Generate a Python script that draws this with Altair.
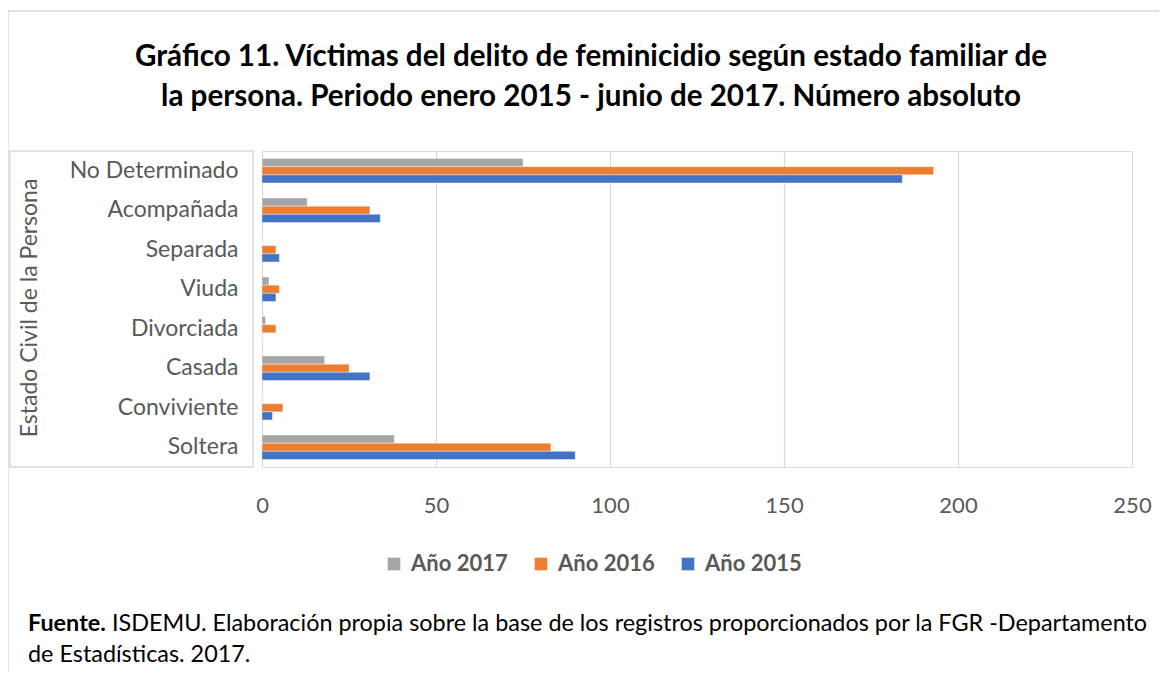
import altair as alt
import pandas as pd

categories = ["No Determinado", "Acompañada", "Separada", "Viuda",
              "Divorciada", "Casada", "Conviviente", "Soltera"]
series = ["Año 2017", "Año 2016", "Año 2015"]
v2017 = [75, 13, 0, 2, 1, 18, 0, 38]
v2016 = [193, 31, 4, 5, 4, 25, 6, 83]
v2015 = [184, 34, 5, 4, 0, 31, 3, 90]
colors = ["#A5A5A5", "#ED7D31", "#4472C4"]
x_ticks = [0, 50, 100, 150, 200, 250]

title_lines = ["Gráfico 11. Víctimas del delito de feminicidio según estado familiar de",
               "la persona. Periodo enero 2015 - junio de 2017. Número absoluto"]
y_title = "Estado Civil de la Persona"
foot_bold = "Fuente."
foot_line1 = "ISDEMU. Elaboración propia sobre la base de los registros proporcionados por la FGR -Departamento"
foot_line2 = "de Estadísticas. 2017."

rows = []
for s, vals in zip(series, [v2017, v2016, v2015]):
    for c, v in zip(categories, vals):
        rows.append({"cat": c, "serie": s, "value": v})
df = pd.DataFrame(rows)

FONT = "Lato"
W, H = 870, 316
one = pd.DataFrame({"k": [0]})

bars = alt.Chart(df).mark_bar(stroke="white", strokeWidth=0.4).encode(
    y=alt.Y("cat:N", sort=categories, title=None,
            scale=alt.Scale(paddingInner=0.38, paddingOuter=0.19),
            axis=alt.Axis(domain=False, ticks=False, labelPadding=24,
                          labelFont=FONT, labelFontSize=23, labelColor="#595959")),
    x=alt.X("value:Q", title=None,
            scale=alt.Scale(domain=[0, 250], nice=False),
            axis=alt.Axis(values=x_ticks, domain=False, ticks=False, grid=True,
                          gridColor="#D9D9D9", gridWidth=1.3, labelPadding=28,
                          labelFlush=False,
                          labelFont=FONT, labelFontSize=22, labelColor="#595959")),
    yOffset=alt.YOffset("serie:N", sort=series, scale=alt.Scale(domain=series)),
    color=alt.Color("serie:N", scale=alt.Scale(domain=series, range=colors),
                    legend=alt.Legend(title=None, orient="none", direction="horizontal",
                                      legendX=121, legendY=402,
                                      symbolType="square", symbolSize=160,
                                      symbolStrokeWidth=0, labelOffset=6,
                                      labelFont=FONT, labelFontSize=22,
                                      labelFontWeight="bold", labelColor="#595959",
                                      columnPadding=22)),
)

frame = alt.Chart(one).mark_rect(fill=None, stroke="#D9D9D9", strokeWidth=1.5).encode(
    x=alt.value(8 - 262), x2=alt.value(1200 - 262),
    y=alt.value(11 - 151), y2=alt.value(720 - 151))

label_box = alt.Chart(one).mark_rect(fill=None, stroke="#D9D9D9", strokeWidth=1.5).encode(
    x=alt.value(10 - 262), x2=alt.value(253 - 262),
    y=alt.value(0), y2=alt.value(467 - 151))

def text_layer(txt, x, y, size, weight="normal", color="black", align="center", angle=0):
    props = dict(text=txt, font=FONT, fontSize=size, fontWeight=weight, color=color,
                 align=align, baseline="middle")
    if angle:
        props["angle"] = angle
    return alt.Chart(one).mark_text(**props).encode(x=alt.value(x), y=alt.value(y))

t1 = text_layer(title_lines[0], 591 - 262, 57 - 151, 29.6, "bold")
t2 = text_layer(title_lines[1], 591 - 262, 97 - 151, 29.6, "bold")
yt = text_layer(y_title, 30 - 262, 308 - 151, 23, color="#595959", angle=270)
f1 = text_layer(foot_bold, 28 - 262, 624 - 151, 23.4, "bold", align="left")
f2 = text_layer(foot_line1, 112 - 262, 624 - 151, 23.4, align="left")
f3 = text_layer(foot_line2, 28 - 262, 655 - 151, 23.4, align="left")

chart = alt.layer(frame, label_box, bars, t1, t2, yt, f1, f2, f3).properties(
    width=W, height=H,
    padding={"left": 254, "top": 143, "right": 27, "bottom": 205},
    autosize=alt.AutoSizeParams(type="none"),
).configure_view(stroke=None).configure(background="white")

chart.save("out.html", embed_options={"renderer": "svg", "actions": False})
